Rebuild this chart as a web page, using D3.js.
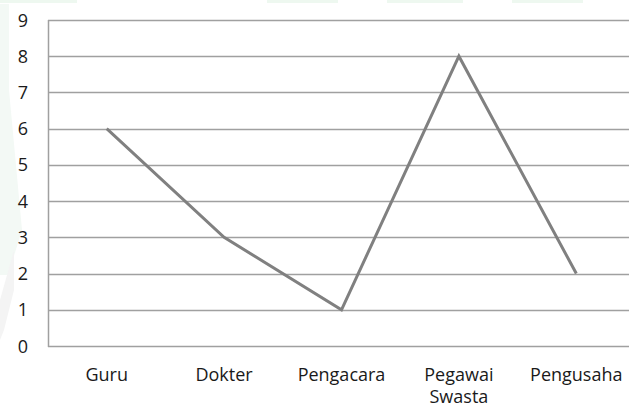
<!DOCTYPE html>
<html>
<head>
<meta charset="utf-8">
<script src="https://cdn.jsdelivr.net/npm/d3@7"></script>
<style>
  html, body { margin: 0; padding: 0; background: #ffffff; }
  svg { display: block; }
  text { font-family: "Open Sans", "Noto Sans", sans-serif; fill: #1a1a1a; }
</style>
</head>
<body>
<svg id="chart" width="629" height="408"></svg>
<script>
// Jumlah per profesi
const categories = ["Guru", "Dokter", "Pengacara", "Pegawai Swasta", "Pengusaha"];
const values = [6, 3, 1, 8, 2];
const yTicks = [0, 1, 2, 3, 4, 5, 6, 7, 8, 9];

const width = 629, height = 408;
const margin = { top: 20, right: -6, bottom: 62, left: 48 };

const svg = d3.select("#chart");

// faint background decoration
const deco = svg.append("g");
[[0, 77], [267, 338], [387, 463], [512, 583]].forEach(([a, b]) => {
  deco.append("rect").attr("x", a).attr("y", 0).attr("width", b - a).attr("height", 3)
    .attr("fill", "#eef8f0");
});
deco.append("path").attr("d", "M0,4 L9,4 L9,90 L22,230 L8,275 L0,275 Z").attr("fill", "#f3f9f5");
deco.append("path").attr("d", "M0,300 L14,250 L14,290 L4,330 L0,340 Z").attr("fill", "#f4f4f4");

const x = d3.scaleBand()
  .domain(categories)
  .range([margin.left, width - margin.right])
  .paddingInner(0).paddingOuter(0);

const y = d3.scaleLinear()
  .domain([0, 9])
  .range([height - margin.bottom, margin.top]);

// horizontal gridlines
svg.append("g")
  .selectAll("line")
  .data(yTicks)
  .join("line")
  .attr("x1", margin.left)
  .attr("x2", width - margin.right)
  .attr("y1", d => Math.round(y(d)) + 0.5)
  .attr("y2", d => Math.round(y(d)) + 0.5)
  .attr("stroke", "#a0a0a0")
  .attr("stroke-width", 1.5);

// left axis line
svg.append("line")
  .attr("x1", margin.left + 0.5).attr("x2", margin.left + 0.5)
  .attr("y1", y(9)).attr("y2", y(0) + 1)
  .attr("stroke", "#a0a0a0").attr("stroke-width", 1.5);

// y tick labels
svg.append("g")
  .selectAll("text")
  .data(yTicks)
  .join("text")
  .attr("x", 23)
  .attr("y", d => y(d) + 6.5)
  .attr("text-anchor", "middle")
  .attr("font-size", 18)
  .text(d => d);

// x category labels
const xl = svg.append("g")
  .selectAll("text")
  .data(categories)
  .join("text")
  .attr("x", d => x(d) + x.bandwidth() / 2)
  .attr("y", 381)
  .attr("text-anchor", "middle")
  .attr("font-size", 18);
xl.each(function (d) {
  const words = d.split(" ");
  const t = d3.select(this);
  words.forEach((w, i) => {
    t.append("tspan")
      .attr("x", x(d) + x.bandwidth() / 2)
      .attr("dy", i === 0 ? 0 : 22)
      .text(w);
  });
});

// data line
const line = d3.line()
  .x((d, i) => x(categories[i]) + x.bandwidth() / 2)
  .y(d => y(d));

svg.append("path")
  .datum(values)
  .attr("d", line)
  .attr("fill", "none")
  .attr("stroke", "#808080")
  .attr("stroke-width", 3)
  .attr("stroke-linejoin", "miter");
</script>
</body>
</html>
